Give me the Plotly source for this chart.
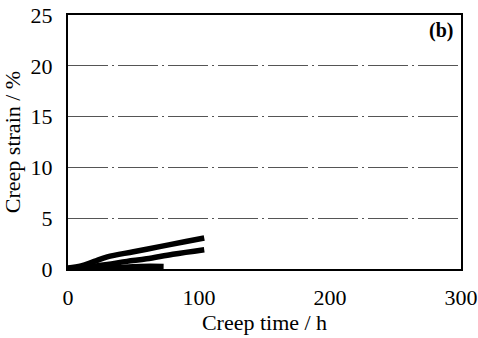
import plotly.graph_objects as go

t1 = [0, 10, 20, 30, 50, 70, 90, 104]
s1 = [0.1, 0.3, 0.75, 1.2, 1.7, 2.2, 2.7, 3.05]
t2 = [0, 15, 30, 45, 60, 80, 104]
s2 = [0.05, 0.2, 0.45, 0.75, 1.0, 1.45, 1.9]
t3 = [0, 30, 55, 73]
s3 = [0.0, 0.1, 0.25, 0.25]

xticks = [0, 100, 200, 300]
yticks = [0, 5, 10, 15, 20, 25]

fig = go.Figure()
for t, s in [(t1, s1), (t2, s2), (t3, s3)]:
    fig.add_trace(go.Scatter(x=t, y=s, mode="lines",
                             line=dict(color="black", width=5.5, shape="spline"),
                             showlegend=False))

font = "Liberation Serif, Times New Roman, serif"
fig.update_layout(
    width=478, height=338,
    margin=dict(l=68, r=17, t=15, b=69),
    plot_bgcolor="white", paper_bgcolor="white",
    font=dict(family=font, color="black"),
    xaxis=dict(range=[0, 300], tickvals=xticks, showgrid=False, zeroline=False,
               automargin=False,
               showline=True, linecolor="black", linewidth=2, mirror=True,
               ticks="outside", ticklen=8, tickcolor="rgba(0,0,0,0)",
               tickfont=dict(size=22, family=font),
               title=dict(text="Creep time / h", font=dict(size=22, family=font), standoff=2)),
    yaxis=dict(range=[0, 25], tickvals=yticks, zeroline=False,
               automargin=False,
               showgrid=True, gridcolor="#555", gridwidth=1,
               griddash="40px,4px,2px,4px",
               showline=True, linecolor="black", linewidth=2, mirror=True,
               ticks="outside", ticklen=9, tickcolor="rgba(0,0,0,0)",
               tickfont=dict(size=22, family=font),
               title=dict(text="Creep strain / %", font=dict(size=22, family=font), standoff=4)),
    annotations=[dict(text="<b>(b)</b>", x=1, y=1, xref="paper", yref="paper",
                      xanchor="right", yanchor="top", xshift=-6, yshift=-2,
                      showarrow=False, font=dict(size=20, family=font))],
)
fig.write_html("out.html", config={"displayModeBar": False},
               post_script="document.body.style.margin='0';document.body.style.padding='0';")
